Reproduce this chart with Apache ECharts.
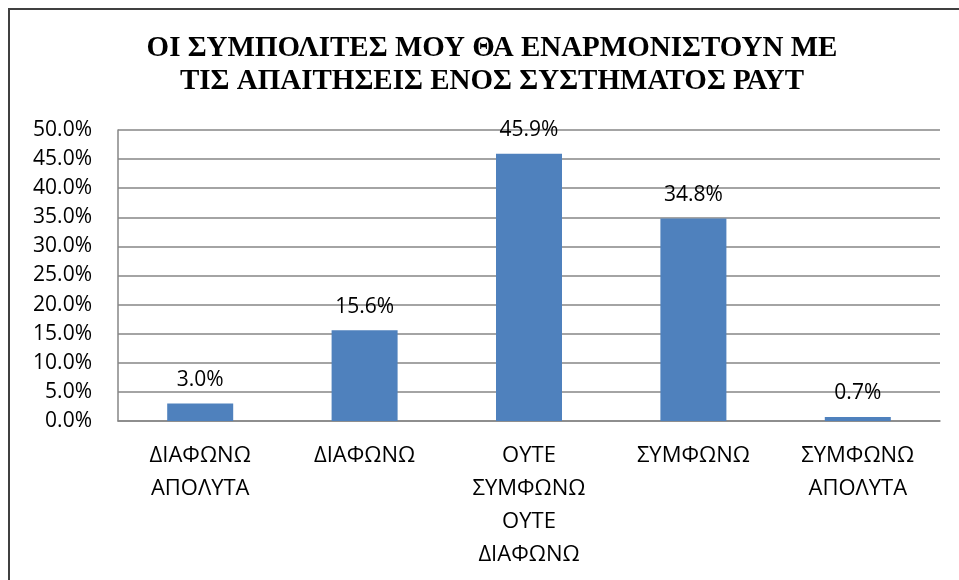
<!DOCTYPE html>
<html>
<head>
<meta charset="utf-8">
<script src="https://cdn.jsdelivr.net/npm/echarts@6/dist/echarts.min.js"></script>
<style>
  html, body { margin: 0; padding: 0; background: #fff; }
  #frame {
    position: absolute; left: 8px; top: 8px; width: 951px; height: 572px;
    border-top: 2px solid #404040; border-left: 2px solid #404040;
    box-sizing: border-box;
  }
  #chart { width: 959px; height: 580px; }
</style>
</head>
<body>
<div id="chart"></div>
<div id="frame"></div>
<script>
// δεδομένα
const titleText = 'ΟΙ ΣΥΜΠΟΛΙΤΕΣ ΜΟΥ ΘΑ ΕΝΑΡΜΟΝΙΣΤΟΥΝ ΜΕ\nΤΙΣ ΑΠΑΙΤΗΣΕΙΣ ΕΝΟΣ ΣΥΣΤΗΜΑΤΟΣ ΡΑΥΤ'
const categories = [
  'ΔΙΑΦΩΝΩ\nΑΠΟΛΥΤΑ',
  'ΔΙΑΦΩΝΩ',
  'ΟΥΤΕ\nΣΥΜΦΩΝΩ\nΟΥΤΕ\nΔΙΑΦΩΝΩ',
  'ΣΥΜΦΩΝΩ',
  'ΣΥΜΦΩΝΩ\nΑΠΟΛΥΤΑ'
]
const values = [3.0, 15.6, 45.9, 34.8, 0.7]

const textFont = '"Open Sans", "Liberation Sans", sans-serif'
const barColor = '#4F81BD'
const lineColor = '#868686'

const chart = echarts.init(document.getElementById('chart'))

chart.setOption({
  animation: false,
  title: {
    text: titleText,
    left: 487,
    textAlign: 'center',
    top: 27,
    textStyle: {
      fontFamily: '"Liberation Serif", "DejaVu Serif", serif',
      fontWeight: 'bold',
      fontSize: 29,
      lineHeight: 33,
      color: '#000'
    }
  },
  grid: {
    left: 118,
    right: 19,
    top: 130,
    bottom: 159
  },
  xAxis: {
    type: 'category',
    data: categories,
    axisLine: { lineStyle: { color: lineColor, width: 1.5 } },
    axisTick: { show: false },
    axisLabel: {
      interval: 0,
      margin: 18,
      fontFamily: textFont,
      fontSize: 22,
      lineHeight: 33,
      color: '#000'
    }
  },
  yAxis: {
    type: 'value',
    min: 0,
    max: 50,
    interval: 5,
    axisLine: { show: true, lineStyle: { color: lineColor, width: 1.5 } },
    axisTick: { show: false },
    axisLabel: {
      margin: 26,
      fontFamily: textFont,
      fontSize: 21,
      color: '#000',
      formatter: v => v.toFixed(1) + '%'
    },
    splitLine: { lineStyle: { color: lineColor, width: 1.5 } }
  },
  series: [{
    type: 'bar',
    data: values,
    barWidth: 66,
    itemStyle: { color: barColor },
    label: {
      show: true,
      position: 'top',
      distance: 13,
      fontFamily: textFont,
      fontSize: 21,
      color: '#000',
      formatter: p => p.value.toFixed(1) + '%'
    }
  }]
})
</script>
</body>
</html>
